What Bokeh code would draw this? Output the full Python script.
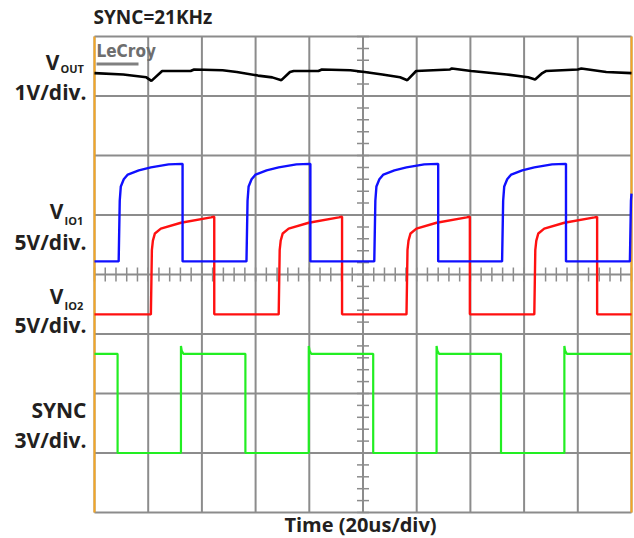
import numpy as np
from bokeh.plotting import figure
from bokeh.models import Label, Range1d, BoxAnnotation
from bokeh.embed import file_html
from bokeh.resources import INLINE

# ---------------- data ----------------
T_END = 200.0            # 10 div x 20 us
N_XDIV = 10
N_YDIV = 8

# Vout ripple (V, around its DC level), 1 V/div
vout_t_us = [0.0, 10.7, 19.3, 21.2, 25.2, 35.8, 37.1, 47.7, 53.0, 60.9,
             66.2, 69.6, 72.8, 74.2, 83.4, 84.7, 95.3, 100.6, 107.2, 113.8,
             116.5, 119.8, 132.4, 133.1, 140.3, 153.5, 161.5, 164.1, 166.8, 168.1,
             180.0, 181.3, 190.6, 200.0]
vout_ripple_v = [0.005, -0.018, -0.066, -0.126, 0.040, 0.040, 0.066, 0.052, 0.024, -0.037,
                 -0.067, -0.114, 0.024, 0.040, 0.040, 0.066, 0.052, 0.024, -0.018, -0.066,
                 -0.114, 0.040, 0.066, 0.082, 0.040, -0.018, -0.066, -0.103, 0.005, 0.040,
                 0.066, 0.082, 0.024, 0.005]

# VIO1 (blue), 5 V/div
io1_rise_us = [9.0, 56.6, 104.2, 151.8, 199.4]
io1_fall_us = [32.8, 80.4, 128.0, 175.6]
io1_shape_dt = [0.0, 0.4, 0.8, 1.9, 3.4, 7.5, 12.0, 18.6, 23.5]
io1_shape_v = [0.0, 5.1, 6.3, 6.9, 7.3, 7.65, 7.9, 8.15, 8.2]

# VIO2 (red), 5 V/div
io2_rise_us = [21.0, 68.6, 116.2, 163.8]
io2_fall_us = [44.6, 92.2, 139.8, 187.2]
io2_shape_dt = [0.0, 0.37, 0.75, 1.5, 3.7, 11.2, 22.4, 23.5]
io2_shape_v = [0.0, 5.4, 6.2, 6.8, 7.2, 7.7, 8.15, 8.2]

# SYNC (green), 3 V/div
sync_rise_us = [32.2, 79.8, 127.4, 175.0]
sync_fall_us = [8.6, 56.2, 103.8, 151.4]
sync_shape_dt = [0.0, 0.3, 0.9]
sync_shape_v = [5.4, 5.15, 5.0]

# channel ground position (divisions from bottom) and V/div
ch_pos = {"vout": 7.38, "io1": 4.22, "io2": 3.33, "sync": 1.0}
ch_vdiv = {"vout": 1.0, "io1": 5.0, "io2": 5.0, "sync": 3.0}

# ---------------- helpers ----------------
def build(rises, falls, sdt, sv, low=0.0):
    xs, ys = [], []
    falls = list(falls)
    if falls and (not rises or falls[0] < rises[0]):
        xs += [0.0, falls[0], falls[0]]
        ys += [sv[-1], sv[-1], low]
        falls = falls[1:]
    else:
        xs.append(0.0); ys.append(low)
    for i, tr in enumerate(rises):
        stop = falls[i] if i < len(falls) else T_END
        xs.append(tr); ys.append(low)
        for dt, v in zip(sdt, sv):
            if tr + dt < stop:
                xs.append(tr + dt); ys.append(v)
        hv = float(np.interp(stop - tr, sdt, sv))
        xs.append(stop); ys.append(hv)
        if i < len(falls):
            xs.append(stop); ys.append(low)
    if xs[-1] < T_END:
        xs.append(T_END); ys.append(low)
    return xs, ys

def to_div(ch, volts):
    return [ch_pos[ch] + v / ch_vdiv[ch] for v in volts]

# layout: scope screen occupies canvas px [FL, W-FR] x [FT, H-FB]
W, H = 634, 538
FL, FR, FT, FB = 94, 3, 36, 26
fw, fh = W - FL - FR, H - FT - FB
def px2t(px):
    return (px - FL) / fw * T_END
def py2d(py):
    return (H - FB - py) / fh * N_YDIV

# ---------------- figure (frame = whole canvas) ----------------
p = figure(width=W, height=H,
           x_range=Range1d(px2t(0), px2t(W)), y_range=Range1d(py2d(H), py2d(0)),
           x_axis_type=None, y_axis_type=None, toolbar_location=None,
           output_backend="svg", min_border=0)
p.outline_line_color = None
p.background_fill_color = "white"
p.border_fill_color = "white"

GRID_C = "#8c8c8c"
gx = [i * T_END / N_XDIV for i in range(N_XDIV + 1)]
gy = list(range(N_YDIV + 1))
p.segment(x0=gx, y0=[0] * len(gx), x1=gx, y1=[N_YDIV] * len(gx), line_color=GRID_C, line_width=2)
p.segment(x0=[0] * len(gy), y0=gy, x1=[T_END] * len(gy), y1=gy, line_color=GRID_C, line_width=2)

# minor tick marks on the centre cross
xc, yc = T_END / 2, N_YDIV / 2
tx = [i * T_END / (N_XDIV * 5) for i in range(N_XDIV * 5 + 1)]
ty = [i * 0.2 for i in range(N_YDIV * 5 + 1)]
hx = 6 / fw * T_END
hy = 7 / fh * N_YDIV
p.segment(x0=tx, y0=[yc - hy] * len(tx), x1=tx, y1=[yc + hy] * len(tx),
          line_color=GRID_C, line_width=1.5)
p.segment(x0=[xc - hx] * len(ty), y0=ty, x1=[xc + hx] * len(ty), y1=ty,
          line_color=GRID_C, line_width=1.5)

# orange side borders
ORANGE = "#f5a623"
p.segment(x0=[0, T_END], y0=[0, 0], x1=[0, T_END], y1=[N_YDIV, N_YDIV],
          line_color=ORANGE, line_width=2)

# traces
sx, sy = build(sync_rise_us, sync_fall_us, sync_shape_dt, sync_shape_v)
p.line(sx, to_div("sync", sy), line_color="#22ee22", line_width=2.2)

rx, ry = build(io2_rise_us, io2_fall_us, io2_shape_dt, io2_shape_v)
p.line(rx, to_div("io2", ry), line_color="#ff1010", line_width=2.4)

bx, by = build(io1_rise_us, io1_fall_us, io1_shape_dt, io1_shape_v)
p.line(bx, to_div("io1", by), line_color="#1010ff", line_width=2.4)

p.line(vout_t_us, to_div("vout", vout_ripple_v), line_color="black", line_width=2.6)

TEXT_DY = -7   # rendered text sits lower than its nominal baseline

# LeCroy logo
p.add_layout(Label(x=px2t(96), y=py2d(57 + TEXT_DY), text="LeCroy", text_font="DejaVu Sans Condensed",
                   text_font_style="bold", text_font_size="17px", text_color="#6e6e6e",
                   text_baseline="alphabetic"))
p.add_layout(BoxAnnotation(left=px2t(96), right=px2t(138), bottom=py2d(65), top=py2d(62),
                           fill_color="#808080", fill_alpha=1, line_color=None))

# text labels
TXT = "#231f20"
FONT = "Open Sans"
def lab(text, px, py, size, align="right"):
    p.add_layout(Label(x=px2t(px), y=py2d(py + TEXT_DY), text=text, text_font=FONT,
                       text_font_style="bold", text_font_size=size, text_color=TXT,
                       text_align=align, text_baseline="alphabetic"))

lab("V", 59, 68, "21px")
lab("OUT", 60, 75, "11px", align="left")
lab("1V/div.", 86, 98, "21px")
lab("V", 63, 217, "21px")
lab("IO1", 64, 227, "11px", align="left")
lab("5V/div.", 86, 248, "21px")
lab("V", 63, 302, "21px")
lab("IO2", 64, 312, "11px", align="left")
lab("5V/div.", 86, 331, "21px")
lab("SYNC", 86, 416, "21px")
lab("3V/div.", 86, 446, "21px")
lab("SYNC=21KHz", 93, 23, "19px", align="left")
lab("Time (20us/div)", 360, 531, "20px", align="center")

open("out.html", "w").write(file_html(p, INLINE))
